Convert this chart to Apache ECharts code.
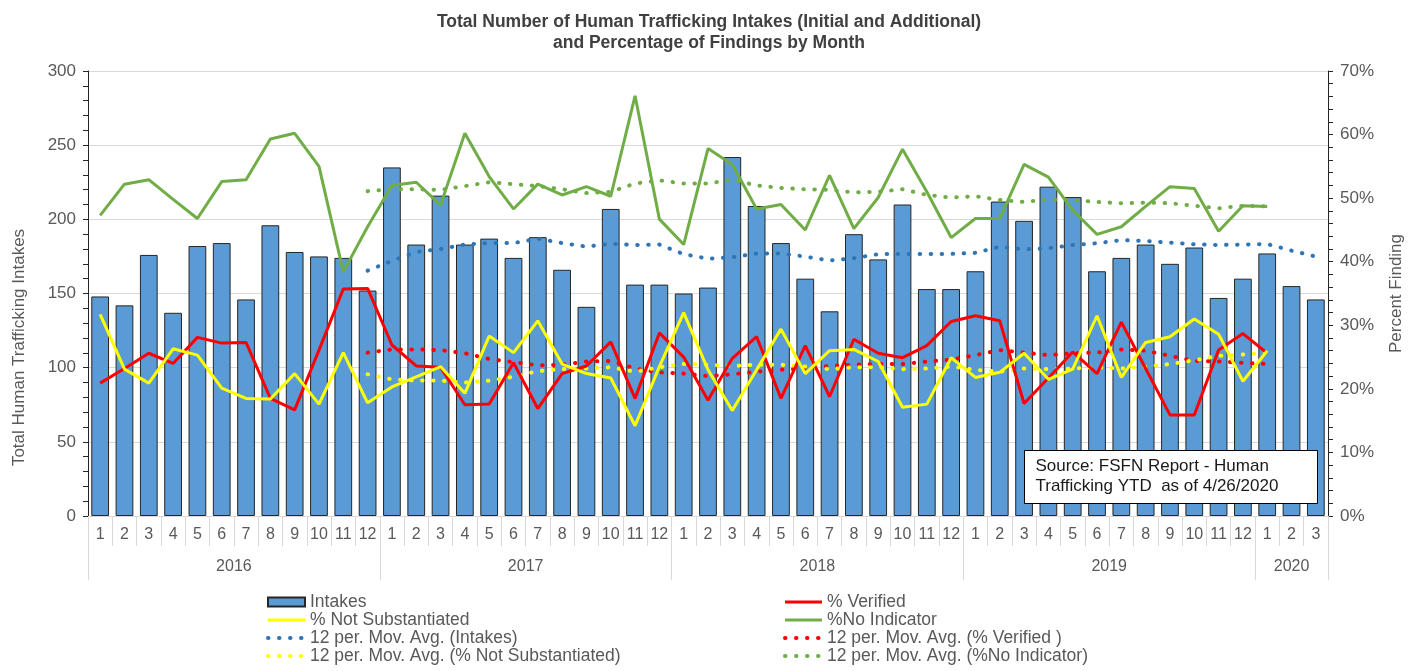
<!DOCTYPE html>
<html>
<head>
<meta charset="utf-8">
<script src="https://cdn.jsdelivr.net/npm/echarts@6/dist/echarts.min.js"></script>
<style>
  html, body { margin: 0; padding: 0; background: #fff; }
  #chart { width: 1418px; height: 671px; }
</style>
</head>
<body>
<div id="chart"></div>
<script>
// Month labels, Jan 2016 – Mar 2020
const months = ['1','2','3','4','5','6','7','8','9','10','11','12',
                '1','2','3','4','5','6','7','8','9','10','11','12',
                '1','2','3','4','5','6','7','8','9','10','11','12',
                '1','2','3','4','5','6','7','8','9','10','11','12',
                '1','2','3'];
const years = ['2016', '2017', '2018', '2019', '2020'];
const monthsPerYear = [12, 12, 12, 12, 3];

// Monthly intakes (left axis)
const intakes = [148,142,176,137,182,184,146,196,178,175,174,152,
                 235,183,216,183,187,174,188,166,141,207,156,156,
                 150,154,242,209,184,160,138,190,173,210,153,153,
                 165,212,199,222,215,165,174,183,170,181,147,160,
                 177,155,146];

// Findings, percent (right axis)
const pctVerified = [20.9,23.2,25.6,24.0,28.1,27.2,27.3,18.5,16.7,26.1,35.7,35.8,
                     26.9,23.6,23.4,17.5,17.6,24.1,16.9,22.4,23.6,27.4,18.5,28.8,
                     25.0,18.2,24.8,28.2,18.5,26.8,18.8,27.8,25.6,24.9,26.8,30.6,
                     31.5,30.7,17.7,21.7,25.8,22.4,30.5,23.2,15.9,15.9,26.1,28.7,
                     25.6,null,null];
const pctNotSubstantiated = [31.7,23.1,20.9,26.3,25.3,20.1,18.5,18.4,22.4,17.6,25.7,17.8,
                             20.3,21.9,23.5,19.3,28.3,25.7,30.7,23.9,22.4,21.7,14.2,23.5,
                             32.0,23.0,16.6,23.0,29.4,22.4,26.0,26.2,24.3,17.1,17.6,24.9,
                             21.8,22.6,25.6,21.5,23.1,31.5,21.8,27.3,28.2,31.0,28.6,21.2,
                             26.0,null,null];
const pctNoIndicator = [47.3,52.2,52.9,49.8,46.8,52.6,52.9,59.3,60.2,55.0,38.4,45.5,
                        52.0,52.5,48.9,60.2,53.4,48.3,52.2,50.5,51.8,50.3,66.1,46.7,
                        42.7,57.8,55.3,48.3,49.0,45.0,53.6,45.2,50.1,57.7,51.0,43.8,
                        46.8,46.8,55.3,53.3,48.1,44.3,45.5,48.7,51.8,51.5,44.8,48.8,
                        48.7,null,null];

// 12-period moving averages (first value at Dec 2016)
const maIntakes = [165.4,
                   172,178,180,183,184,184,187,184,181.6,183.6,182.7,183,
                   176.5,173.5,174.4,177,177,174.9,172.2,173.8,176.5,176.7,176.7,176.7,
                   177.4,181.6,179.8,180.5,182.7,183.9,186,185.4,184.3,183.2,182.7,183,
                   183.4,178.9,174.9];
const maVerified = [25.7,
                    26.2,26.2,26.1,25.6,24.7,24.2,23.7,23.8,24.3,24.4,23.2,22.6,
                    22.4,22.0,22.3,22.7,23.0,23.2,23.6,23.8,23.9,23.9,24.3,24.6,
                    25.3,26.1,25.7,25.3,25.6,25.7,26.2,26.0,25.2,24.4,24.3,24.1,
                    23.9];
const maNotSubstantiated = [22.3,
                            21.5,21.3,21.3,21.0,21.3,21.9,22.8,23.1,23.2,23.4,22.7,23.4,
                            23.9,23.8,23.6,23.8,23.8,23.5,23.1,23.4,23.4,23.1,23.2,23.5,
                            23.0,22.7,23.2,23.1,23.2,23.4,23.2,23.5,23.9,24.5,25.2,25.4,
                            25.7];
const maNoIndicator = [51.1,
                       51.4,51.4,51.3,51.9,52.5,52.2,51.9,51.4,50.8,51.0,52.3,52.8,
                       52.3,52.3,52.9,52.0,51.6,51.4,51.3,50.9,51.0,51.4,50.5,50.1,
                       50.3,49.7,49.4,49.8,49.7,49.4,49.2,49.3,49.2,48.8,48.4,48.8,
                       48.7];

const MA_START = 11;
const pad = arr => Array(MA_START).fill(null).concat(arr);

// year group boundaries and centres on a 0..N value scale
const yearEdges = [0];
monthsPerYear.forEach(n => yearEdges.push(yearEdges[yearEdges.length - 1] + n));
const yearCentres = years.map((y, i) => (yearEdges[i] + yearEdges[i + 1]) / 2);

const FONT = 'Liberation Sans, Arial, sans-serif';
const GREY = '#595959';

const DOTS = [0.5, 10.5];
const dotted = (color) => ({ color: color, width: 4, type: DOTS, cap: 'round' });

// legend entries for line series show only the stroke, no marker
const solidEntry = (name, color) => ({
  name: name, itemStyle: { opacity: 0 },
  lineStyle: { color: color, width: 3, type: 'solid' }
});
const dottedEntry = (name, color) => ({
  name: name, itemStyle: { opacity: 0 },
  lineStyle: { color: color, width: 4, type: DOTS, cap: 'round' }
});
const legendText = { fontFamily: FONT, fontSize: 17.5, color: GREY, lineHeight: 18 };

const chart = echarts.init(document.getElementById('chart'), null, { renderer: 'canvas' });
chart.setOption({
  animation: false,
  textStyle: { fontFamily: FONT },
  title: {
    text: 'Total Number of Human Trafficking Intakes (Initial and Additional)\nand Percentage of Findings by Month',
    left: 'center', top: 7,
    textStyle: { fontFamily: FONT, fontSize: 17.5, fontWeight: 'bold', color: '#404040', lineHeight: 21 }
  },
  grid: { left: 88, right: 90, top: 71, bottom: 155 },
  legend: [
    {
      orient: 'vertical', left: 266, top: 593, padding: 0, itemGap: 0, itemWidth: 37, itemHeight: 9,
      textStyle: legendText,
      data: [{ name: 'Intakes', icon: 'rect' },
             solidEntry('% Not Substantiated', '#ffff00'),
             dottedEntry('12 per. Mov. Avg. (Intakes)', '#2e75b6'),
             dottedEntry('12 per. Mov. Avg. (% Not Substantiated)', '#ffff00')]
    },
    {
      orient: 'vertical', left: 783, top: 593, padding: 0, itemGap: 0, itemWidth: 37, itemHeight: 9,
      textStyle: legendText,
      data: [solidEntry('% Verified', '#ff0000'),
             solidEntry('%No Indicator', '#70ad47'),
             dottedEntry('12 per. Mov. Avg. (% Verified )', '#ff0000'),
             dottedEntry('12 per. Mov. Avg. (%No Indicator)', '#70ad47')]
    }
  ],
  xAxis: [
    {
      type: 'category', data: months, position: 'bottom',
      axisLine: { lineStyle: { color: '#d9d9d9' } },
      axisTick: { show: true, length: 30, lineStyle: { color: '#d9d9d9' } },
      axisLabel: { color: GREY, fontSize: 16, margin: 11, interval: 0 }
    },
    {
      type: 'value', min: 0, max: months.length, position: 'bottom',
      axisLine: { show: false },
      splitLine: { show: false },
      axisTick: { show: true, length: 64, customValues: yearEdges, lineStyle: { color: '#d9d9d9' } },
      axisLabel: {
        color: GREY, fontSize: 16, margin: 43, customValues: yearCentres,
        formatter: v => { const i = yearCentres.indexOf(v); return i >= 0 ? years[i] : ''; }
      }
    }
  ],
  yAxis: [
    {
      type: 'value', min: 0, max: 300, interval: 50,
      name: 'Total Human Trafficking Intakes', nameLocation: 'middle', nameGap: 60, nameRotate: 90,
      nameTextStyle: { color: GREY, fontSize: 17, fontFamily: FONT, padding: [0, 108, 0, 0] },
      axisLine: { show: true, lineStyle: { color: '#262626' } },
      axisTick: { show: true, length: 5, lineStyle: { color: '#262626' } },
      minorTick: { show: true, splitNumber: 5, length: 5, lineStyle: { color: '#262626' } },
      axisLabel: { color: GREY, fontSize: 17, margin: 12 },
      splitLine: { show: true, lineStyle: { color: '#d9d9d9', width: 1 } }
    },
    {
      type: 'value', min: 0, max: 70, interval: 10,
      name: 'Percent Finding', nameLocation: 'middle', nameGap: 60, nameRotate: 90,
      nameTextStyle: { color: GREY, fontSize: 17, fontFamily: FONT },
      axisLine: { show: true, lineStyle: { color: '#262626' } },
      axisTick: { show: true, length: 5, lineStyle: { color: '#262626' } },
      minorTick: { show: true, splitNumber: 5, length: 5, lineStyle: { color: '#262626' } },
      axisLabel: { color: GREY, fontSize: 17, margin: 12, formatter: '{value}%' },
      splitLine: { show: false }
    }
  ],
  series: [
    {
      name: 'Intakes', type: 'bar', data: intakes, xAxisIndex: 0, yAxisIndex: 0,
      barCategoryGap: '27%',
      itemStyle: { color: '#5b9bd5', borderColor: '#262626', borderWidth: 1 }
    },
    { name: '12 per. Mov. Avg. (Intakes)', type: 'line', yAxisIndex: 0, data: pad(maIntakes),
      symbol: 'none', lineStyle: dotted('#2e75b6'), itemStyle: { color: '#2e75b6' } },
    { name: '12 per. Mov. Avg. (% Verified )', type: 'line', yAxisIndex: 1, data: pad(maVerified),
      symbol: 'none', lineStyle: dotted('#ff0000'), itemStyle: { color: '#ff0000' } },
    { name: '12 per. Mov. Avg. (% Not Substantiated)', type: 'line', yAxisIndex: 1, data: pad(maNotSubstantiated),
      symbol: 'none', lineStyle: dotted('#ffff00'), itemStyle: { color: '#ffff00' } },
    { name: '12 per. Mov. Avg. (%No Indicator)', type: 'line', yAxisIndex: 1, data: pad(maNoIndicator),
      symbol: 'none', lineStyle: dotted('#70ad47'), itemStyle: { color: '#70ad47' } },
    { name: '% Verified', type: 'line', yAxisIndex: 1, data: pctVerified, symbol: 'none',
      lineStyle: { color: '#ff0000', width: 3 }, itemStyle: { color: '#ff0000' } },
    { name: '% Not Substantiated', type: 'line', yAxisIndex: 1, data: pctNotSubstantiated, symbol: 'none',
      lineStyle: { color: '#ffff00', width: 3 }, itemStyle: { color: '#ffff00' } },
    { name: '%No Indicator', type: 'line', yAxisIndex: 1, data: pctNoIndicator, symbol: 'none',
      lineStyle: { color: '#70ad47', width: 3 }, itemStyle: { color: '#70ad47' } }
  ],
  graphic: [
    {
      type: 'group', right: 100, top: 450, z: 100,
      children: [
        { type: 'rect', z: 100, shape: { x: 0, y: 0, width: 293, height: 53 },
          style: { fill: '#fff', stroke: '#000', lineWidth: 1 } },
        { type: 'text', z: 101, x: 11, y: 6,
          style: { text: 'Source: FSFN Report - Human\nTrafficking YTD  as of 4/26/2020',
                   font: '17px ' + FONT, fill: '#1a1a1a', lineHeight: 20 } }
      ]
    }
  ]
});
</script>
</body>
</html>
